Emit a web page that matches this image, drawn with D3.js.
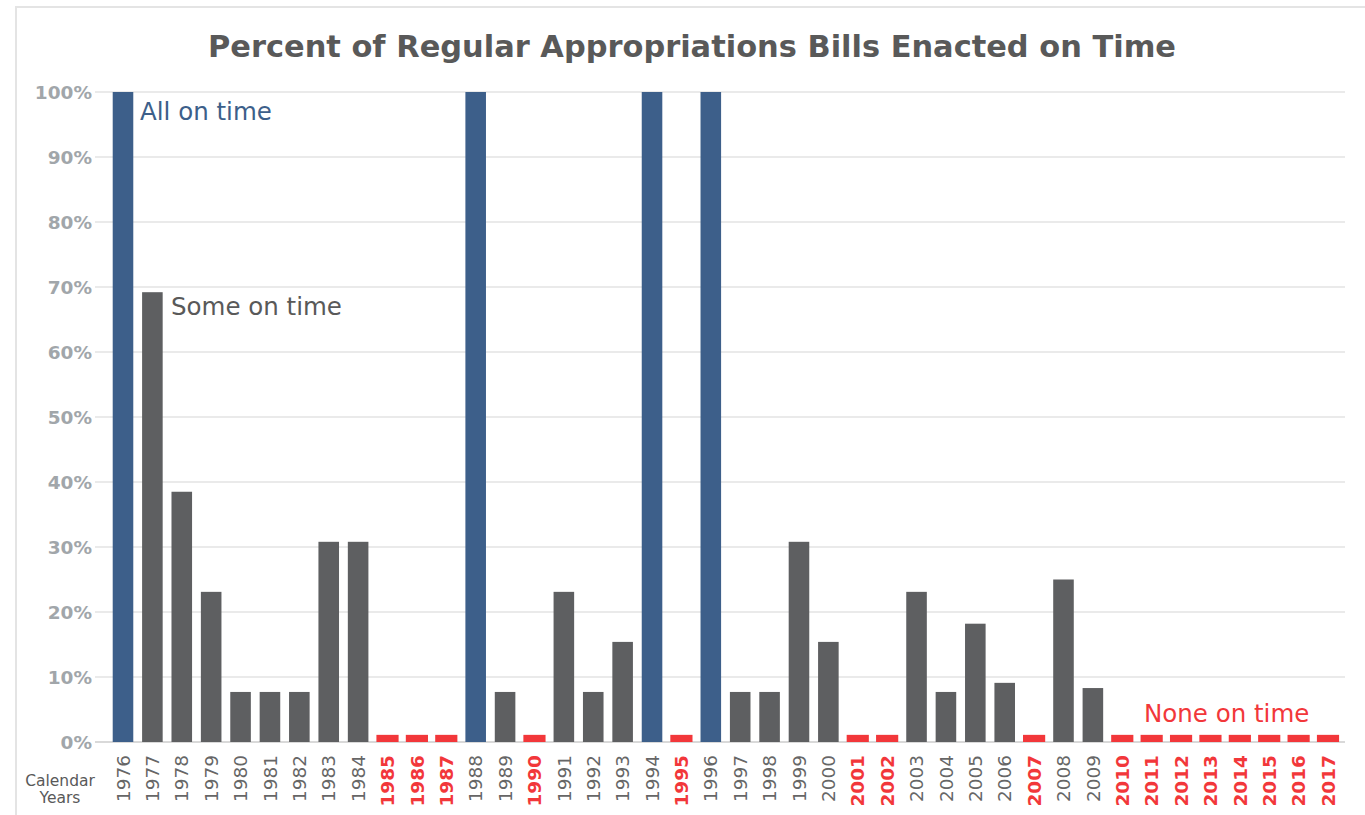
<!DOCTYPE html>
<html>
<head>
<meta charset="utf-8">
<script src="https://cdn.jsdelivr.net/npm/d3@7"></script>
<style>
  html, body { margin: 0; padding: 0; background: #fff; }
  svg { display: block; }
</style>
</head>
<body>
<svg id="chart" width="1365" height="815"></svg>
<script>
// Calendar years covered by the chart
const years = [
  "1976","1977","1978","1979","1980","1981","1982","1983","1984","1985",
  "1986","1987","1988","1989","1990","1991","1992","1993","1994","1995",
  "1996","1997","1998","1999","2000","2001","2002","2003","2004","2005",
  "2006","2007","2008","2009","2010","2011","2012","2013","2014","2015",
  "2016","2017"
];

// Share of regular appropriations bills enacted on time (0–1)
const shareOnTime = [
  1.00, 0.692, 0.385, 0.231, 0.077, 0.077, 0.077, 0.308, 0.308, 0.00,
  0.00, 0.00, 1.00, 0.077, 0.00, 0.231, 0.077, 0.154, 1.00, 0.00,
  1.00, 0.077, 0.077, 0.308, 0.154, 0.00, 0.00, 0.231, 0.077, 0.182,
  0.091, 0.00, 0.25, 0.083, 0.00, 0.00, 0.00, 0.00, 0.00, 0.00,
  0.00, 0.00
];

// Height of the marker drawn for years with no bills on time
const noneMarker = 0.011;

const yTicks = [0, 0.1, 0.2, 0.3, 0.4, 0.5, 0.6, 0.7, 0.8, 0.9, 1.0];

const colors = { all: "#3d5f8a", some: "#5e5f61", none: "#f2373a" };

const data = years.map((y, i) => ({ year: y, v: shareOnTime[i] }));
const kind = d => d.v >= 1 ? "all" : (d.v > 0 ? "some" : "none");

const svg = d3.select("#chart");
const font = "'DejaVu Sans', Verdana, sans-serif";

// frame
svg.append("path")
  .attr("d", "M16,820 V7 H1370")
  .attr("fill", "none")
  .attr("stroke", "#e4e4e4")
  .attr("stroke-width", 2);

const x = d3.scaleBand()
  .domain(years)
  .range([108.3, 1342.7])
  .paddingInner(0.3)
  .paddingOuter(0.15);

const y = d3.scaleLinear().domain([0, 1]).range([742, 92]);

// title
svg.append("text")
  .attr("x", 692).attr("y", 57)
  .attr("text-anchor", "middle")
  .attr("font-family", font)
  .attr("font-weight", "bold")
  .attr("font-size", 30)
  .attr("fill", "#595959")
  .attr("textLength", 968)
  .attr("lengthAdjust", "spacingAndGlyphs")
  .text("Percent of Regular Appropriations Bills Enacted on Time");

// gridlines
svg.append("g")
  .selectAll("line")
  .data(yTicks)
  .join("line")
  .attr("x1", 95).attr("x2", 1345)
  .attr("y1", d => y(d)).attr("y2", d => y(d))
  .attr("stroke", d => d === 0 ? "#d9d9d9" : "#e3e3e3")
  .attr("stroke-width", d => d === 0 ? 2 : 1.5);

// y axis labels
const yAxis = svg.append("g")
  .attr("transform", "translate(92,0)")
  .call(d3.axisLeft(y).tickValues(yTicks).tickFormat(d3.format(".0%")).tickSize(0).tickPadding(0));
yAxis.select(".domain").remove();
yAxis.selectAll("text")
  .attr("font-family", font)
  .attr("font-weight", "bold")
  .attr("font-size", 18.5)
  .attr("fill", "#a1a6aa")
  .attr("dy", "0.36em");

// bars
svg.append("g")
  .selectAll("rect")
  .data(data)
  .join("rect")
  .attr("x", d => kind(d) === "none" ? x(d.year) - 0.8 : x(d.year))
  .attr("width", d => kind(d) === "none" ? x.bandwidth() + 1.6 : x.bandwidth())
  .attr("y", d => y(kind(d) === "none" ? noneMarker : d.v))
  .attr("height", d => y(0) - y(kind(d) === "none" ? noneMarker : d.v))
  .attr("fill", d => colors[kind(d)]);

// x axis labels (rotated)
const xAxis = svg.append("g")
  .attr("transform", "translate(0,755)")
  .call(d3.axisBottom(x).tickSize(0).tickPadding(0));
xAxis.select(".domain").remove();
xAxis.selectAll("text")
  .attr("transform", "rotate(-90)")
  .attr("text-anchor", "end")
  .attr("x", 0).attr("y", 0).attr("dy", "0.36em")
  .attr("font-family", font)
  .attr("font-size", 18.5)
  .attr("font-weight", d => shareOnTime[years.indexOf(d)] === 0 ? "bold" : "normal")
  .attr("fill", d => shareOnTime[years.indexOf(d)] === 0 ? colors.none : "#666666");

// axis caption
const cap = svg.append("text")
  .attr("text-anchor", "middle")
  .attr("font-family", font)
  .attr("font-size", 15.5)
  .attr("fill", "#595959");
cap.append("tspan").attr("x", 60).attr("y", 786).text("Calendar");
cap.append("tspan").attr("x", 60).attr("y", 803).text("Years");

// annotations
const notes = [
  { text: "All on time", x: 140, y: 120, color: colors.all },
  { text: "Some on time", x: 171, y: 315, color: "#595959" },
  { text: "None on time", x: 1144, y: 722, color: colors.none }
];
svg.append("g")
  .selectAll("text")
  .data(notes)
  .join("text")
  .attr("x", d => d.x).attr("y", d => d.y)
  .attr("font-family", font)
  .attr("font-size", 24.5)
  .attr("fill", d => d.color)
  .text(d => d.text);
</script>
</body>
</html>
